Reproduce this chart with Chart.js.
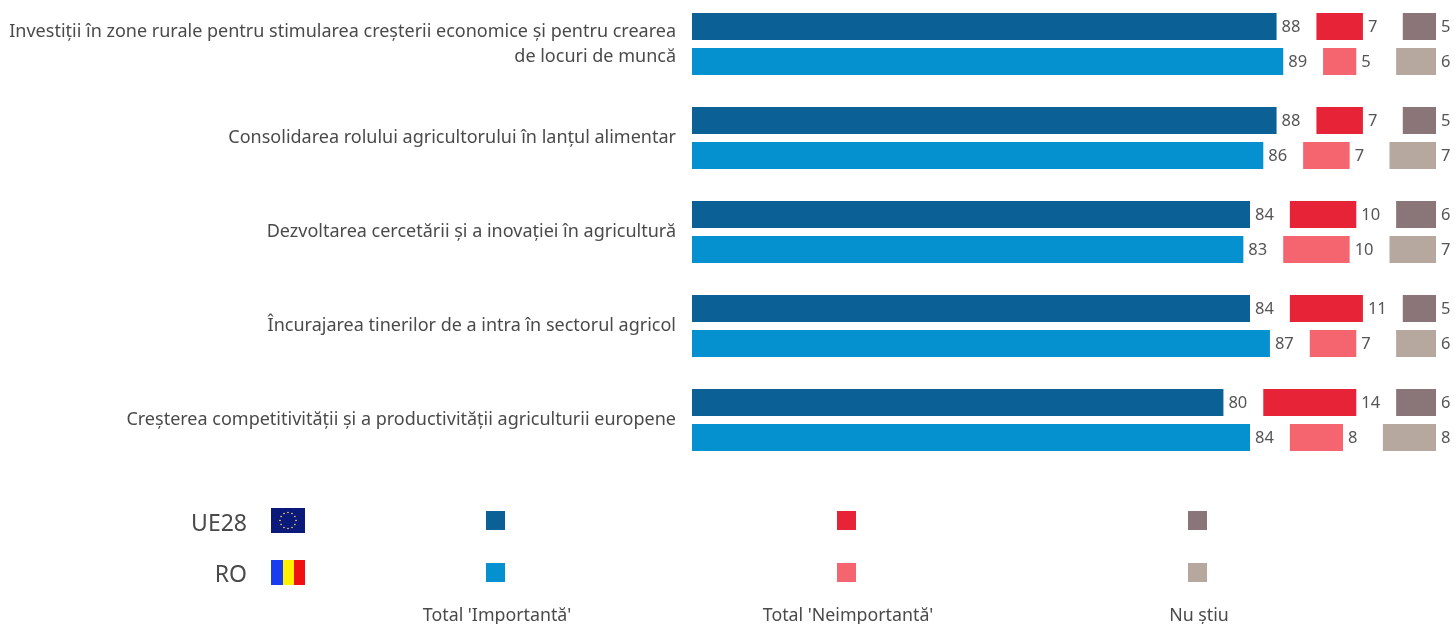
<!DOCTYPE html>
<html lang="ro">
<head>
<meta charset="utf-8">
<title>Agricultura</title>
<script src="https://cdn.jsdelivr.net/npm/chart.js@4"></script>
<style>
  html, body { margin: 0; padding: 0; background: #fff; overflow: hidden; }
  body { width: 1454px; height: 624px; position: relative; font-family: "Noto Sans", sans-serif; color: #4a4a4a; }
  #chart { position: absolute; left: 0; top: -3px; }
  .sw { position: absolute; width: 19px; height: 19px; }
  .lab { position: absolute; font-size: 17.8px; transform: translateX(-50%); white-space: nowrap; top: 602px; }
  .geo { position: absolute; font-size: 23px; width: 80px; text-align: right; left: 167px; }
  svg { position: absolute; left: 271px; width: 34px; height: 25px; }
</style>
</head>
<body>
<canvas id="chart" width="1454" height="627"></canvas>

<div class="geo" style="top:506px">UE28</div>
<div class="geo" style="top:557px">RO</div>
<svg id="flagEu" style="top:508px" viewBox="0 0 34 25"><rect width="34" height="25" fill="#0b1a7a"/></svg>
<svg style="top:560px" viewBox="0 0 34 25">
  <rect width="12" height="25" fill="#1a3cf0"/><rect x="12" width="11" height="25" fill="#fff200"/><rect x="23" width="11" height="25" fill="#f01010"/>
</svg>
<div id="legend"></div>

<script>
const categories = [
  ["Investiții în zone rurale pentru stimularea creșterii economice și pentru crearea", "de locuri de muncă"],
  "Consolidarea rolului agricultorului în lanțul alimentar",
  "Dezvoltarea cercetării și a inovației în agricultură",
  "Încurajarea tinerilor de a intra în sectorul agricol",
  "Creșterea competitivității și a productivității agriculturii europene"
];

const ueImportant = [88, 88, 84, 84, 80];
const ueNotImportant = [7, 7, 10, 11, 14];
const ueDontKnow = [5, 5, 6, 5, 6];

const roImportant = [89, 86, 83, 87, 84];
const roNotImportant = [5, 7, 10, 7, 8];
const roDontKnow = [6, 7, 7, 6, 8];

// blank room between the three blocks of each bar
const spacer = [6, 6, 6, 6, 6];

const legendNames = ["Total 'Importantă'", "Total 'Neimportantă'", "Nu ştiu"];
const ueColors = ["#0b6195", "#e62337", "#8a7579"];
const roColors = ["#0590cf", "#f4656f", "#b6a79f"];

function block(stack, data, color) {
  return { stack, data, backgroundColor: color, showValue: true };
}
function gap(stack) {
  return { stack, data: spacer, backgroundColor: "transparent", showValue: false };
}

// Etichetele cu valori, la dreapta fiecarui bloc
const valueLabels = {
  id: "valueLabels",
  afterDatasetsDraw(chart) {
    const ctx = chart.ctx;
    ctx.save();
    ctx.font = '16.5px "Noto Sans"';
    ctx.fillStyle = "#555";
    ctx.textAlign = "left";
    ctx.textBaseline = "middle";
    chart.data.datasets.forEach((ds, i) => {
      if (!ds.showValue) return;
      chart.getDatasetMeta(i).data.forEach((bar, j) => {
        ctx.fillText(ds.data[j], bar.x + 5, bar.y + 1);
      });
    });
    ctx.restore();
  }
};

new Chart(document.getElementById("chart"), {
  type: "bar",
  data: {
    labels: categories,
    datasets: [
      block("ue", ueImportant, ueColors[0]), gap("ue"),
      block("ue", ueNotImportant, ueColors[1]), gap("ue"),
      block("ue", ueDontKnow, ueColors[2]),
      block("ro", roImportant, roColors[0]), gap("ro"),
      block("ro", roNotImportant, roColors[1]), gap("ro"),
      block("ro", roDontKnow, roColors[2])
    ]
  },
  options: {
    indexAxis: "y",
    responsive: false,
    animation: false,
    categoryPercentage: 0.745,
    barPercentage: 0.77,
    layout: { padding: { top: 0, bottom: 157, left: 0, right: 18 } },
    plugins: { legend: { display: false }, tooltip: { enabled: false } },
    scales: {
      x: { display: false, stacked: true, min: 0, max: 112 },
      y: {
        stacked: true,
        grid: { display: false },
        border: { display: false },
        afterFit(scale) {
          scale.width = 692;
          // the two-line label must not push the plot area down
          scale.paddingTop = 0;
          scale.paddingBottom = 0;
        },
        ticks: {
          autoSkip: false,
          padding: 8,
          color: "#4a4a4a",
          font: { family: '"Noto Sans"', size: 18, lineHeight: 1.39 }
        }
      }
    }
  },
  plugins: [valueLabels]
});

// Legenda: o coloana pentru fiecare raspuns
const legendX = [486, 837, 1188];
const legend = document.getElementById("legend");
legendNames.forEach((name, i) => {
  legend.insertAdjacentHTML("beforeend",
    `<div class="sw" style="left:${legendX[i]}px;top:511px;background:${ueColors[i]}"></div>
     <div class="sw" style="left:${legendX[i]}px;top:563px;background:${roColors[i]}"></div>
     <div class="lab" style="left:${legendX[i] + 11}px">${name}</div>`);
});

// Cercul de stele de pe steagul UE
const flagEu = document.getElementById("flagEu");
for (let s = 0; s < 12; s++) {
  const a = s * Math.PI / 6;
  const dot = document.createElementNS("http://www.w3.org/2000/svg", "circle");
  dot.setAttribute("cx", 17 + 8 * Math.cos(a));
  dot.setAttribute("cy", 12.5 + 8 * Math.sin(a));
  dot.setAttribute("r", 0.8);
  dot.setAttribute("fill", "#f5e26a");
  flagEu.appendChild(dot);
}
</script>
</body>
</html>
